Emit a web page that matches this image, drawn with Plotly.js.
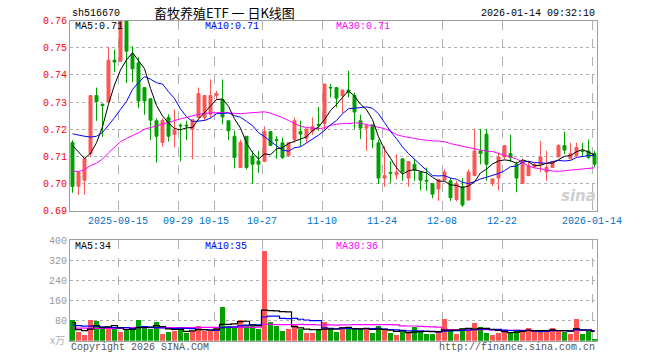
<!DOCTYPE html>
<html>
<head>
<meta charset="utf-8">
<script src="https://cdn.plot.ly/plotly-3.0.1.min.js"></script>
<style>
html,body{margin:0;padding:0;background:#fff;}
#chart{width:660px;height:360px;}
</style>
</head>
<body>
<div id="chart"></div>
<script>
// ---- data ----
var tickIndex = [8, 18, 24, 32, 42, 52, 62, 72, 87];
var tickLabels = ['2025-09-15','09-29','10-15','10-27','11-10','11-24','12-08','12-22','2026-01-14'];

var open = [.7151,.6990,.7012,.7110,.7324,.7292,.7302,.7454,.7450,.7600,
 .7475,.7444,.7353,.7312,.7231,.7151,.7243,.7180,.7215,.7215,
 .7200,.7243,.7243,.7255,.7324,.7309,.7231,.7174,.7059,.7174,
 .7101,.7083,.7081,.7191,.7162,.7150,.7103,.7162,.7191,.7167,
 .7191,.7218,.7221,.7354,.7353,.7324,.7344,.7324,.7231,.7204,
 .7216,.7150,.7020,.7041,.7032,.7091,.7020,.7071,.7042,.7012,
 .7000,.6980,.7012,.7010,.6941,.6988,.6939,.7029,.7120,.7182,
 .7000,.7020,.7098,.7110,.7071,.7000,.7029,.7061,.7071,.7042,
 .7059,.7098,.7140,.7091,.7103,.7120,.7120,.7110];
var high = [.7160,.7042,.7091,.7324,.7353,.7293,.7503,.7493,.7610,.7610,
 .7506,.7464,.7353,.7312,.7240,.7240,.7255,.7272,.7221,.7231,
 .7235,.7353,.7324,.7383,.7341,.7383,.7231,.7194,.7162,.7174,
 .7120,.7120,.7211,.7191,.7174,.7169,.7150,.7243,.7231,.7201,
 .7243,.7282,.7366,.7366,.7353,.7344,.7415,.7334,.7253,.7213,
 .7216,.7162,.7137,.7083,.7108,.7091,.7081,.7091,.7042,.7059,
 .7000,.7015,.7052,.7020,.7010,.7020,.7052,.7201,.7201,.7201,
 .7017,.7113,.7140,.7179,.7081,.7091,.7081,.7075,.7157,.7120,
 .7081,.7145,.7191,.7150,.7150,.7150,.7162,.7120];
var low = [.6966,.6958,.6958,.7098,.7231,.7172,.7302,.7410,.7450,.7370,
 .7373,.7277,.7253,.7160,.7077,.7136,.7155,.7134,.7081,.7160,
 .7090,.7243,.7230,.7240,.7310,.7218,.7160,.7056,.7059,.7052,
 .7000,.7039,.7081,.7140,.7091,.7090,.7098,.7150,.7137,.7150,
 .7180,.7194,.7194,.7317,.7280,.7260,.7317,.7201,.7164,.7120,
 .7130,.6998,.6988,.7002,.7015,.7010,.6988,.7010,.6975,.6973,
 .6946,.6936,.7012,.6936,.6934,.6914,.6939,.7029,.7071,.7010,
 .6990,.6975,.7090,.7079,.6968,.7000,.7029,.7055,.7042,.7010,
 .7059,.7098,.7108,.7091,.7098,.7098,.7091,.7061];
var close = [.6989,.7042,.7091,.7324,.7302,.7287,.7454,.7447,.7600,.7487,
 .7422,.7304,.7304,.7233,.7174,.7232,.7174,.7196,.7212,.7212,
 .7235,.7331,.7324,.7324,.7331,.7245,.7194,.7096,.7152,.7059,
 .7071,.7071,.7191,.7140,.7159,.7096,.7150,.7231,.7182,.7201,
 .7209,.7214,.7366,.7352,.7314,.7344,.7334,.7263,.7204,.7213,
 .7162,.7020,.7029,.7038,.7042,.7042,.7081,.7049,.7012,.7009,
 .6961,.7015,.7042,.6948,.7000,.6921,.7042,.7120,.7110,.7071,
 .7017,.7098,.7140,.7096,.7020,.7079,.7066,.7071,.7098,.7059,
 .7081,.7140,.7123,.7110,.7133,.7118,.7096,.7071];

// price moving averages (x 0.001)
var ma5 = [714.0,711.4,709.2,711.1,715.0,720.9,729.2,736.3,741.8,745.5,
 748.2,745.2,742.3,735.0,728.7,724.9,722.3,720.2,719.8,720.5,
 720.6,723.7,726.3,728.5,730.9,731.1,728.4,723.8,720.4,714.9,
 711.4,709.0,710.9,710.6,712.7,713.2,714.7,715.5,716.4,717.2,
 719.5,720.8,723.5,726.9,729.1,731.8,734.2,732.1,729.2,727.2,
 723.5,717.2,712.6,709.3,705.8,703.4,704.7,705.1,704.5,703.9,
 702.3,700.9,700.8,699.5,699.3,698.5,699.1,700.6,703.9,705.3,
 707.2,708.3,708.7,708.4,707.4,708.7,708.0,706.6,706.7,707.5,
 707.5,708.8,710.0,710.3,711.7,712.5,711.6,710.6];
var ma10 = [718.3,717.8,717.4,717.1,717.4,718.8,721.4,724.2,727.3,730.2,
 734.6,737.2,739.3,738.4,737.1,736.6,733.8,731.3,727.4,724.6,
 722.8,723.0,723.2,724.1,725.7,725.8,726.0,725.0,724.4,722.9,
 721.3,718.7,717.3,715.5,713.8,712.3,711.9,713.2,713.5,714.9,
 716.3,717.8,719.5,721.6,723.2,725.7,727.5,727.8,728.0,728.2,
 727.7,725.7,722.4,719.2,716.5,713.5,711.0,708.8,706.9,704.9,
 702.9,702.8,702.9,702.0,701.6,700.4,700.0,700.7,701.7,702.3,
 702.9,703.7,704.7,706.2,706.4,707.9,708.2,707.7,707.6,707.4,
 708.1,708.5,708.3,708.5,709.6,710.0,710.3,710.3];
var ma30 = [704.6,704.4,705.1,706.6,707.5,709.0,711.3,713.5,715.4,716.6,
 717.6,718.7,720.0,720.5,721.2,721.8,722.5,723.1,723.8,724.3,
 724.9,725.5,725.8,726.0,726.1,726.1,726.0,725.8,725.7,725.9,
 726.1,726.3,726.4,725.9,725.2,724.3,723.2,722.0,721.1,720.6,
 720.3,720.2,720.5,721.4,721.8,722.1,722.1,722.3,722.2,721.7,
 721.2,720.7,720.2,719.3,718.0,717.4,717.1,716.6,716.2,715.9,
 715.7,715.6,715.4,714.7,714.2,713.7,713.1,712.7,712.3,711.9,
 711.8,711.1,710.4,709.8,709.1,707.7,706.4,705.8,705.3,705.0,
 704.6,704.5,704.7,704.9,705.1,705.3,705.6,705.8];

// volume (万) and its moving averages
var volume = [82,34,22.5,82,78,45,46,50,36,45,
 46,82,53,46,74,26.5,36,40,50,32,
 38,58,40,40,53,134,58,50,82,62,
 58,48,356,74,58,40,45,64,48,32,
 32,45,74,48,36,54,54,46,46,46,
 30,60,42,30,22.5,36,29,54,40,28,
 28,30,86,38,28,50,42,70,54,30,
 22.5,30,42,36,38,38,50,38,38,38,
 50,38,36,26.5,86,26.5,38,6.6];
var vma5 = [72,44,40,46,59.7,52.3,54.7,60.2,51.0,44.4,
 44.6,51.8,52.4,54.4,60.2,56.3,47.1,44.5,45.3,36.9,
 39.2,43.6,43.6,41.6,45.8,65.0,65.0,67.0,75.4,77.2,
 62.0,60.0,121.2,119.6,118.8,115.2,114.6,56.2,51.0,45.8,
 44.2,44.2,46.2,46.2,47.0,51.4,53.2,47.6,47.2,49.2,
 44.4,45.6,44.8,41.6,36.9,38.1,31.9,34.3,36.3,37.4,
 35.8,36.0,42.4,42.0,42.0,46.4,48.8,45.6,48.8,49.2,
 43.7,41.3,35.7,32.1,33.7,36.8,40.8,40.0,40.4,40.4,
 42.8,40.4,40.0,37.7,47.3,42.6,42.6,36.7];
var vma10 = [62,60,58,58,58,55,53,52,51,52.1,
 48.5,53.3,56.3,52.7,52.3,50.5,49.5,48.5,49.9,48.6,
 47.8,45.4,44.1,43.5,41.4,52.1,54.3,55.3,58.5,61.5,
 63.5,62.5,94.1,97.5,98.0,88.6,87.3,88.7,85.3,82.3,
 79.7,79.4,51.2,48.6,46.4,47.8,48.7,46.9,46.7,48.1,
 47.9,49.4,46.2,44.4,43.1,41.3,38.8,39.6,39.0,37.2,
 37.0,34.0,38.4,39.2,39.7,41.1,42.4,44.0,45.4,45.6,
 45.1,45.1,40.7,40.5,41.5,40.3,41.1,37.9,36.3,37.1,
 39.8,40.6,40.0,39.1,43.9,42.7,41.5,38.4];
var vma30 = [50,50,50,49,49,49,49,49,50,52,
 52,52,52,52,52,52,52,52,52,52,
 52,53,53,53,53,53,53,53,53,54.0,
 53.2,53.7,64.8,64.6,63.9,63.7,63.7,64.2,64.6,64.1,
 63.7,62.4,63.1,63.2,61.9,62.8,63.4,63.6,63.5,64.0,
 63.7,63.8,63.8,63.5,62.5,59.2,58.3,58.4,57.0,55.9,
 54.9,54.3,45.3,44.1,43.1,43.4,43.3,43.5,43.7,43.6,
 43.3,42.8,41.7,41.3,41.4,40.9,40.7,40.5,40.2,39.9,
 40.6,39.9,39.7,39.6,41.7,41.4,41.7,40.1];

var maLabels = ['MA5:0.71','MA10:0.71','MA30:0.71'];
var volLabels = ['MA5:34','MA10:35','MA30:36'];

// ---- build ----
var RED = '#ff5555', GREEN = '#00a000';
var idx = open.map(function(_, i){ return i; });
var scale = function(a){ return a.map(function(v){ return v / 1000; }); };
var volColors = idx.map(function(i){ return close[i] >= open[i] ? RED : GREEN; });

var W = 660, H = 360;
var px = function(x){ return x / W; };
var py = function(y){ return 1 - y / H; };
var mono = 'Liberation Mono, DejaVu Sans Mono, monospace';

var traces = [
  {type:'candlestick', x:idx, open:open, high:high, low:low, close:close,
   xaxis:'x', yaxis:'y', whiskerwidth:0, hoverinfo:'skip',
   increasing:{line:{color:RED, width:1}, fillcolor:RED},
   decreasing:{line:{color:GREEN, width:1}, fillcolor:GREEN}},
  {type:'scatter', mode:'lines', x:idx, y:scale(ma30), xaxis:'x', yaxis:'y',
   line:{color:'#ff00ff', width:1}, hoverinfo:'skip'},
  {type:'scatter', mode:'lines', x:idx, y:scale(ma10), xaxis:'x', yaxis:'y',
   line:{color:'#0000ff', width:1}, hoverinfo:'skip'},
  {type:'scatter', mode:'lines', x:idx, y:scale(ma5), xaxis:'x', yaxis:'y',
   line:{color:'#000000', width:1}, hoverinfo:'skip'},
  {type:'bar', x:idx, y:volume, xaxis:'x2', yaxis:'y2', width:0.82,
   marker:{color:volColors, line:{width:0}}, hoverinfo:'skip'},
  {type:'scatter', mode:'lines', x:idx, y:vma30, xaxis:'x2', yaxis:'y2',
   line:{color:'#ff00ff', width:1.2, shape:'hvh'}, hoverinfo:'skip'},
  {type:'scatter', mode:'lines', x:idx, y:vma10, xaxis:'x2', yaxis:'y2',
   line:{color:'#0000ff', width:1.2, shape:'hvh'}, hoverinfo:'skip'},
  {type:'scatter', mode:'lines', x:idx, y:vma5, xaxis:'x2', yaxis:'y2',
   line:{color:'#000000', width:1.2, shape:'hvh'}, hoverinfo:'skip'}
];

var xr = [-0.4167, 87.4167];
var gridX = tickIndex.map(function(k){ return k - 0.4167; });
var xdom = [px(70), px(597)];

var priceTicks = [0.69,0.70,0.71,0.72,0.73,0.74,0.75,0.76];
var volTicks = [80,160,240,320,400];

var baseX = {
  range:xr, domain:xdom, showline:true, mirror:true, linecolor:'#a0a0a0', linewidth:1,
  tickmode:'array', tickvals:gridX, ticktext:tickLabels, ticks:'',
  showgrid:true, gridcolor:'#b0b0b0', griddash:'dash', gridwidth:1,
  zeroline:false, fixedrange:true, rangeslider:{visible:false}
};

var layout = {
  width:W, height:H, margin:{l:0, r:0, t:0, b:0},
  paper_bgcolor:'#ffffff', plot_bgcolor:'#ffffff',
  showlegend:false, boxgap:0.3, bargap:0,
  xaxis: Object.assign({}, baseX, {anchor:'y', showticklabels:true,
    tickfont:{family:mono, size:10, color:'#0070c8'}}),
  xaxis2: Object.assign({}, baseX, {anchor:'y2', showticklabels:false, matches:'x'}),
  yaxis: {domain:[py(210.7), py(20.5)], range:[0.69, 0.76], anchor:'x',
    showline:true, mirror:true, linecolor:'#a0a0a0', linewidth:1,
    tickmode:'array', tickvals:priceTicks, ticktext:priceTicks.map(function(v){return v.toFixed(2);}),
    ticks:'', tickfont:{family:mono, size:10, color:'#ff0000'},
    showgrid:true, gridcolor:'#b0b0b0', griddash:'dot', gridwidth:1, zeroline:false, fixedrange:true},
  yaxis2: {domain:[py(340.7), py(240)], range:[0, 400], anchor:'x2',
    showline:true, mirror:true, linecolor:'#a0a0a0', linewidth:1,
    tickmode:'array', tickvals:volTicks, ticks:'',
    tickfont:{family:mono, size:10, color:'#999999'},
    showgrid:true, gridcolor:'#b0b0b0', griddash:'dot', gridwidth:1, zeroline:false, fixedrange:true},
  annotations: [
    {text:'sh516670', x:px(70), y:py(13.5), xref:'paper', yref:'paper', xanchor:'left', yanchor:'middle', showarrow:false,
     font:{family:mono, size:10, color:'#000'}},
    {text:'畜牧养殖ETF 一 日K线图', x:px(224), y:py(13), xref:'paper', yref:'paper', xanchor:'center', yanchor:'middle', showarrow:false,
     font:{family:'Noto Sans CJK SC, sans-serif', size:13, color:'#000'}},
    {text:'2026-01-14 09:32:10', x:px(597), y:py(13.5), xref:'paper', yref:'paper', xanchor:'right', yanchor:'middle', showarrow:false,
     font:{family:mono, size:10, color:'#000'}},
    {text:maLabels[0], x:px(73), y:py(26.5), xref:'paper', yref:'paper', xanchor:'left', yanchor:'middle', showarrow:false,
     font:{family:mono, size:10, color:'#000'}},
    {text:maLabels[1], x:px(203), y:py(26.5), xref:'paper', yref:'paper', xanchor:'left', yanchor:'middle', showarrow:false,
     font:{family:mono, size:10, color:'#0000ff'}},
    {text:maLabels[2], x:px(334), y:py(26.5), xref:'paper', yref:'paper', xanchor:'left', yanchor:'middle', showarrow:false,
     font:{family:mono, size:10, color:'#ff00ff'}},
    {text:volLabels[0], x:px(73), y:py(246.5), xref:'paper', yref:'paper', xanchor:'left', yanchor:'middle', showarrow:false,
     font:{family:mono, size:10, color:'#000'}},
    {text:volLabels[1], x:px(203), y:py(246.5), xref:'paper', yref:'paper', xanchor:'left', yanchor:'middle', showarrow:false,
     font:{family:mono, size:10, color:'#0000ff'}},
    {text:volLabels[2], x:px(334), y:py(246.5), xref:'paper', yref:'paper', xanchor:'left', yanchor:'middle', showarrow:false,
     font:{family:mono, size:10, color:'#ff00ff'}},
    {text:'x万', x:px(57), y:py(339), xref:'paper', yref:'paper', xanchor:'center', yanchor:'middle', showarrow:false,
     font:{family:'Noto Sans CJK SC, sans-serif', size:10, color:'#b0b0b0'}},
    {text:'Copyright 2026 SINA.COM', x:px(69), y:py(347), xref:'paper', yref:'paper', xanchor:'left', yanchor:'middle', showarrow:false,
     font:{family:mono, size:10, color:'#555555'}},
    {text:'http://finance.sina.com.cn', x:px(597), y:py(347), xref:'paper', yref:'paper', xanchor:'right', yanchor:'middle', showarrow:false,
     font:{family:mono, size:10, color:'#555555'}},
    {text:'<b><i>sina</i></b>', x:px(598), y:py(196), xref:'paper', yref:'paper', xanchor:'right', yanchor:'middle', showarrow:false,
     font:{family:'DejaVu Sans, sans-serif', size:15, color:'rgba(190,190,190,0.75)'}}
  ]
};

Plotly.newPlot('chart', traces, layout, {displayModeBar:false, staticPlot:true});
</script>
</body>
</html>
